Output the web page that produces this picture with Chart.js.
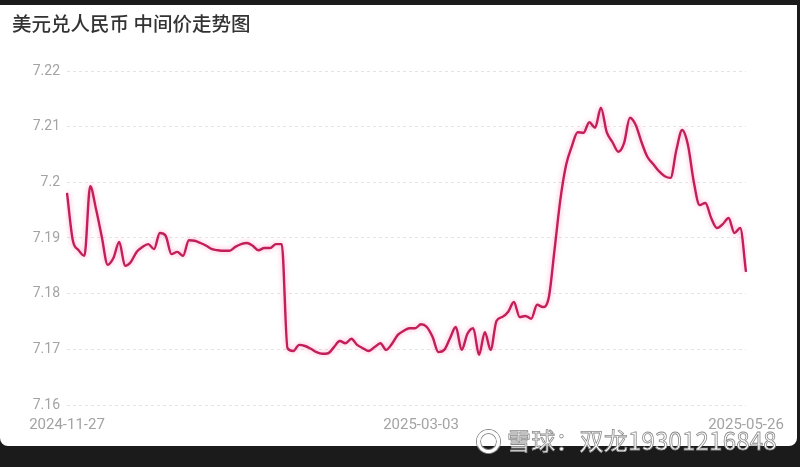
<!DOCTYPE html>
<html>
<head>
<meta charset="utf-8">
<script src="https://cdn.jsdelivr.net/npm/chart.js@4/dist/chart.umd.min.js"></script>
<style>
  html, body { margin: 0; padding: 0; }
  body { width: 800px; height: 467px; background: #1b1b1b; position: relative; overflow: hidden; }
  #card { position: absolute; left: 0; top: 5px; width: 797px; height: 441px; background: #fff; border-radius: 0 0 8px 8px; }
  #title { position: absolute; left: 12px; top: 8px; font: 500 19.5px/20px "Noto Sans CJK SC", sans-serif; color: #333; white-space: nowrap; }
  #wrap { position: absolute; left: 0; top: 0; width: 797px; height: 441px; }
  #mark { position: absolute; left: 477px; top: 427px; font: 24px/26px "Noto Sans CJK SC", sans-serif; color: #fff;
          -webkit-text-stroke: 0.8px #8a8a8a; white-space: nowrap; letter-spacing: 0.2px; }
  #logo { display: inline-block; width: 17px; height: 17px; border: 3px solid #fff; border-radius: 50%;
          box-shadow: 0 0 0 1px #8a8a8a, inset 0 0 0 1px #8a8a8a; vertical-align: -3px; margin-right: 7px; }
</style>
</head>
<body>
<div id="card">
  <div id="wrap"><canvas id="rateChart"></canvas></div>
  <div id="title">美元兑人民币 中间价走势图</div>
</div>
<div id="mark"><span id="logo"></span>雪球：双龙19301216848</div>
<script>
const dates = [
  '2024-11-27','2024-11-28','2024-11-29',
  '2024-12-02','2024-12-03','2024-12-04','2024-12-05','2024-12-06','2024-12-09','2024-12-10','2024-12-11',
  '2024-12-12','2024-12-13','2024-12-16','2024-12-17','2024-12-18','2024-12-19','2024-12-20','2024-12-23',
  '2024-12-24','2024-12-25','2024-12-26','2024-12-27','2024-12-30','2024-12-31',
  '2025-01-02','2025-01-03','2025-01-06','2025-01-07','2025-01-08','2025-01-09','2025-01-10','2025-01-13',
  '2025-01-14','2025-01-15','2025-01-16','2025-01-17','2025-01-20','2025-01-21','2025-01-22','2025-01-23',
  '2025-01-24','2025-01-27',
  '2025-02-05','2025-02-06','2025-02-07','2025-02-10','2025-02-11','2025-02-12','2025-02-13','2025-02-14',
  '2025-02-17','2025-02-18','2025-02-19','2025-02-20','2025-02-21','2025-02-24','2025-02-25','2025-02-26',
  '2025-02-27','2025-02-28',
  '2025-03-03','2025-03-04','2025-03-05','2025-03-06','2025-03-07','2025-03-10','2025-03-11','2025-03-12',
  '2025-03-13','2025-03-14','2025-03-17','2025-03-18','2025-03-19','2025-03-20','2025-03-21','2025-03-24',
  '2025-03-25','2025-03-26','2025-03-27','2025-03-28','2025-03-31',
  '2025-04-01','2025-04-02','2025-04-03','2025-04-07','2025-04-08','2025-04-09','2025-04-10','2025-04-11',
  '2025-04-14','2025-04-15','2025-04-16','2025-04-17','2025-04-18','2025-04-21','2025-04-22','2025-04-23',
  '2025-04-24','2025-04-25','2025-04-28','2025-04-29','2025-04-30',
  '2025-05-06','2025-05-07','2025-05-08','2025-05-09','2025-05-12','2025-05-13','2025-05-14','2025-05-15',
  '2025-05-16','2025-05-19','2025-05-20','2025-05-21','2025-05-22','2025-05-23','2025-05-26'
];

const rates = [
  7.1981, 7.1896, 7.1878, 7.1868, 7.1993, 7.1952, 7.1902, 7.1852, 7.1864, 7.1893,
  7.1850, 7.1857, 7.1875, 7.1884, 7.1889, 7.1880, 7.1909, 7.1904, 7.1871, 7.1875,
  7.1868, 7.1896, 7.1895, 7.1891, 7.1886, 7.1880, 7.1878, 7.1877, 7.1877, 7.1884,
  7.1889, 7.1891, 7.1886, 7.1878, 7.1882, 7.1882, 7.1889, 7.1889, 7.1702, 7.1697,
  7.1708, 7.1706, 7.1701, 7.1695, 7.1692, 7.1693, 7.1704, 7.1715, 7.1711, 7.1719,
  7.1708, 7.1702, 7.1697, 7.1704, 7.1711, 7.1699, 7.1710, 7.1726, 7.1733, 7.1738,
  7.1738, 7.1745, 7.1740, 7.1722, 7.1695, 7.1699, 7.1720, 7.1740, 7.1699, 7.1728,
  7.1738, 7.1690, 7.1731, 7.1699, 7.1751, 7.1758, 7.1767, 7.1785, 7.1758, 7.1760,
  7.1755, 7.1780, 7.1776, 7.1792, 7.1878, 7.1968, 7.2031, 7.2065, 7.2090, 7.2089,
  7.2108, 7.2098, 7.2134, 7.2090, 7.2072, 7.2055, 7.2071, 7.2116, 7.2103, 7.2072,
  7.2046, 7.2033, 7.2020, 7.2011, 7.2008, 7.2058, 7.2094, 7.2067, 7.2001, 7.1959,
  7.1963, 7.1936, 7.1918, 7.1925, 7.1936, 7.1909, 7.1918, 7.1839
];

const xTickDates = ['2024-11-27', '2025-03-03', '2025-05-26'];
const yMin = 7.16, yMax = 7.22, yStep = 0.01;

// soft pink glow under the line
const glow = {
  id: 'glow',
  beforeDatasetDraw(chart) {
    const c = chart.ctx;
    c.save();
    c.shadowColor = 'rgba(255, 100, 160, 0.6)';
    c.shadowBlur = 5;
  },
  afterDatasetDraw(chart) { chart.ctx.restore(); }
};

const ctx = document.getElementById('rateChart').getContext('2d');
new Chart(ctx, {
  type: 'line',
  data: {
    labels: dates,
    datasets: [{
      data: rates,
      borderColor: '#c21f5a',
      borderWidth: 2.4,
      pointRadius: 0,
      fill: false,
      cubicInterpolationMode: 'monotone'
    }]
  },
  plugins: [glow],
  options: {
    responsive: true,
    maintainAspectRatio: false,
    animation: false,
    layout: { padding: { left: 0, top: 66, right: 51, bottom: 0 } },
    plugins: { legend: { display: false }, tooltip: { enabled: false } },
    scales: {
      x: {
        offset: false,
        grid: { display: false },
        border: { display: false },
        afterFit: s => { s.height = 41; },
        ticks: {
          autoSkip: false,
          maxRotation: 0,
          padding: 3,
          color: '#a3a3a3',
          font: { family: 'Roboto', size: 15 },
          callback: function (v) {
            const d = this.getLabelForValue(v);
            return xTickDates.includes(d) ? d : null;
          }
        }
      },
      y: {
        min: yMin,
        max: yMax,
        afterFit: s => { s.width = 67; },
        border: { display: false, dash: [3, 3] },
        grid: { color: '#e4e4e4', lineWidth: 1, drawTicks: false },
        ticks: {
          stepSize: yStep,
          padding: 7,
          color: '#a3a3a3',
          font: { family: 'Roboto', size: 14 },
          callback: v => String(parseFloat(v.toFixed(2)))
        }
      }
    }
  }
});
</script>
</body>
</html>
